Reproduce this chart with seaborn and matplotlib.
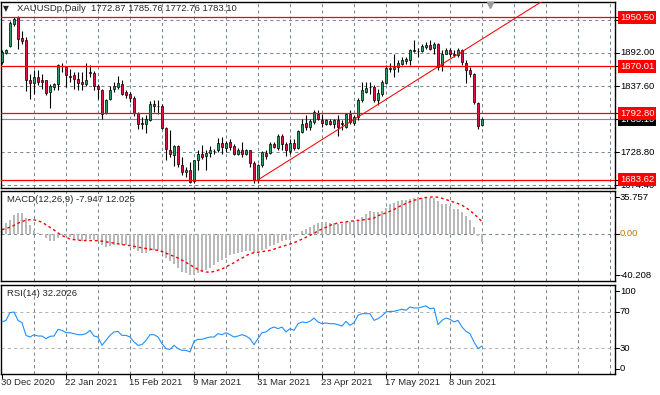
import numpy as np
import pandas as pd
import seaborn as sns
import matplotlib.pyplot as plt
import matplotlib.transforms as mtransforms

# daily candles (bar 0 = 30 Dec 2020)
opens = [1876.8, 1891.5, 1902.5, 1939.6, 1950.5, 1916.6, 1913.4, 1847.9, 1843.0, 1852.2,
         1846.8, 1846.8, 1827.7, 1835.9, 1840.2, 1871.0, 1868.6, 1853.5, 1855.0, 1849.5,
         1844.1, 1841.3, 1861.0, 1859.3, 1836.9, 1831.5, 1793.8, 1816.8, 1832.6, 1835.9,
         1841.3, 1827.7, 1824.9, 1818.4, 1793.8, 1776.0, 1774.7, 1781.3, 1808.6, 1804.5,
         1804.2, 1769.3, 1733.3, 1724.0, 1738.7, 1708.7, 1696.1, 1700.5, 1681.9, 1716.9,
         1726.7, 1722.9, 1727.8, 1731.0, 1732.2, 1744.7, 1736.5, 1745.8, 1738.7, 1726.7,
         1733.3, 1726.7, 1732.2, 1711.4, 1684.1, 1707.6, 1727.8, 1727.8, 1743.2, 1736.5,
         1755.1, 1743.2, 1731.1, 1744.7, 1736.5, 1762.2, 1776.9, 1770.4, 1778.6, 1792.2,
         1782.4, 1775.8, 1779.7, 1775.8, 1781.3, 1776.0, 1770.4, 1791.1, 1776.9, 1786.7,
         1814.1, 1827.7, 1836.0, 1835.9, 1814.1, 1824.9, 1842.4, 1865.3, 1865.9, 1868.6,
         1874.1, 1878.4, 1879.5, 1894.8, 1895.0, 1894.8, 1901.4, 1905.7, 1900.3, 1906.8,
         1871.3, 1890.4, 1897.0, 1889.6, 1888.8, 1897.0, 1875.7, 1864.2, 1857.7, 1809.7,
         1772.87]
highs = [1895.9, 1898.6, 1945.0, 1951.6, 1953.2, 1927.6, 1917.7, 1856.6, 1863.2, 1863.2,
         1857.7, 1847.9, 1840.2, 1842.4, 1874.1, 1875.2, 1869.7, 1865.9, 1860.4, 1860.4,
         1860.4, 1875.2, 1871.3, 1862.1, 1841.3, 1833.1, 1816.8, 1836.9, 1844.1, 1853.3,
         1846.8, 1830.4, 1827.7, 1820.6, 1794.9, 1786.7, 1789.5, 1812.9, 1815.1, 1814.1,
         1808.6, 1770.4, 1764.9, 1740.4, 1740.4, 1721.2, 1704.8, 1713.1, 1716.9, 1733.3,
         1740.4, 1733.3, 1738.7, 1734.9, 1752.9, 1754.0, 1747.4, 1751.3, 1743.2, 1736.5,
         1745.8, 1734.9, 1733.3, 1714.7, 1710.3, 1731.1, 1732.2, 1745.8, 1745.8, 1758.4,
         1758.4, 1745.8, 1751.3, 1751.3, 1764.9, 1784.0, 1789.5, 1784.0, 1798.7, 1797.7,
         1792.2, 1784.0, 1784.0, 1784.0, 1789.5, 1781.3, 1793.3, 1798.7, 1789.5, 1818.4,
         1844.1, 1844.1, 1844.1, 1838.6, 1833.1, 1846.8, 1871.3, 1875.2, 1890.4, 1879.5,
         1885.0, 1885.0, 1898.6, 1912.3, 1900.3, 1906.8, 1909.5, 1913.4, 1909.5, 1908.5,
         1897.0, 1900.3, 1900.3, 1895.9, 1899.7, 1898.6, 1879.5, 1868.6, 1858.8, 1811.3,
         1785.76]
lows = [1874.1, 1890.4, 1901.4, 1936.8, 1898.6, 1906.8, 1828.8, 1816.8, 1824.9, 1838.6,
        1833.1, 1823.3, 1802.0, 1830.4, 1830.4, 1860.4, 1835.9, 1844.1, 1833.1, 1830.4,
        1830.4, 1836.9, 1852.2, 1830.4, 1816.8, 1784.0, 1792.2, 1815.1, 1827.7, 1833.1,
        1822.2, 1818.4, 1811.3, 1787.8, 1767.6, 1767.6, 1760.5, 1780.2, 1794.9, 1792.2,
        1767.6, 1716.9, 1721.2, 1706.5, 1704.8, 1691.2, 1688.5, 1677.6, 1678.7, 1700.5,
        1718.5, 1700.5, 1721.2, 1725.6, 1729.4, 1726.7, 1729.4, 1732.2, 1724.0, 1724.0,
        1721.2, 1724.0, 1704.8, 1677.6, 1677.6, 1704.8, 1718.5, 1726.7, 1736.5, 1733.3,
        1732.2, 1722.3, 1726.7, 1733.3, 1734.9, 1760.5, 1766.0, 1766.0, 1775.8, 1781.3,
        1770.4, 1773.1, 1773.1, 1769.3, 1755.1, 1766.0, 1769.3, 1775.8, 1773.1, 1781.3,
        1811.3, 1826.0, 1824.9, 1811.3, 1805.8, 1820.6, 1841.3, 1860.4, 1852.2, 1860.4,
        1871.3, 1873.0, 1871.3, 1893.2, 1885.0, 1893.2, 1898.6, 1897.0, 1890.4, 1864.2,
        1862.1, 1889.4, 1885.0, 1885.0, 1885.0, 1871.3, 1842.4, 1852.2, 1808.6, 1766.5,
        1772.76]
closes = [1893.2, 1897.0, 1941.2, 1947.8, 1915.0, 1911.2, 1847.9, 1842.4, 1852.2, 1844.1,
          1844.1, 1826.6, 1836.9, 1840.2, 1871.3, 1870.5, 1855.0, 1853.0, 1848.4, 1843.0,
          1841.3, 1847.9, 1858.8, 1836.9, 1833.1, 1792.2, 1814.1, 1830.4, 1836.9, 1843.0,
          1824.9, 1822.2, 1818.4, 1793.8, 1775.8, 1775.5, 1784.0, 1808.6, 1804.8, 1804.0,
          1769.3, 1734.9, 1725.6, 1738.7, 1710.3, 1696.7, 1700.5, 1680.3, 1715.8, 1726.7,
          1721.2, 1727.8, 1732.2, 1731.5, 1744.7, 1737.6, 1744.7, 1737.6, 1726.7, 1733.3,
          1725.6, 1732.2, 1711.4, 1684.1, 1707.6, 1729.4, 1722.3, 1743.2, 1737.6, 1755.1,
          1743.2, 1733.3, 1744.7, 1736.5, 1763.3, 1775.8, 1770.4, 1780.2, 1794.9, 1784.0,
          1776.9, 1781.3, 1775.8, 1781.3, 1770.4, 1775.5, 1791.1, 1778.6, 1786.7, 1814.1,
          1830.4, 1834.8, 1835.5, 1814.1, 1826.0, 1844.1, 1867.0, 1867.5, 1868.6, 1875.7,
          1880.6, 1881.2, 1897.5, 1897.0, 1894.6, 1902.5, 1905.7, 1898.6, 1906.8, 1868.6,
          1890.4, 1897.0, 1890.4, 1889.2, 1897.0, 1876.8, 1864.2, 1857.7, 1811.3, 1772.0,
          1783.10]

macd_main = [5.9, 10.8, 14, 19, 20, 20, 15.7, 8.5, 4.2, 1,
             -0.7, -3.9, -7.2, -6.5, -3.9, -1.3, -1.6, -3.3, -4.6, -5.6,
             -6.5, -5.6, -4.6, -5.6, -7.2, -11.1, -13.1, -12.1, -11.1, -9.8,
             -10.5, -11.1, -12.1, -14.4, -17, -18.6, -18.6, -16.3, -15.4, -15.4,
             -18.6, -23.5, -26.8, -29.4, -33.3, -36.6, -38.2, -40.2, -39.5, -38.2,
             -36.6, -35, -33.3, -30.7, -27.5, -25.2, -23.5, -20.3, -19.6, -18.6,
             -17.6, -16.3, -17, -18.6, -17, -15.4, -14.4, -12.1, -10.5, -8.8,
             -6.5, -5.6, -5.6, -3.3, -0.7, 2.6, 5.2, 6.5, 8.5, 10.8,
             11.8, 11.8, 10.8, 10.8, 9.8, 9.8, 11.8, 11.8, 12.4, 14,
             16.3, 19.6, 22.2, 21.6, 21.6, 22.2, 25.5, 28.8, 30.4, 32,
             32.7, 32.7, 34.5, 35.2, 35.7, 35.5, 35.3, 34.8, 34.6, 32,
             29.4, 28.8, 27.1, 24.8, 23.9, 21.6, 17.3, 14, 6.5, -1.5,
             -7.947]
macd_signal = [4.2, 5.3, 6.5, 8.5, 10.5, 12.2, 13.3, 14, 13.8, 12.8,
               11.5, 9, 6.5, 4, 1, -1.5, -3, -4.9, -5.5, -6,
               -6.3, -6.4, -6.4, -6.5, -6.5, -7, -7.6, -8.2, -8.9, -9.6,
               -10.2, -10.8, -11.4, -12, -12.8, -13.5, -14.1, -14.7, -15.3, -16,
               -17, -18.6, -20.3, -21.8, -23.5, -25.5, -27.7, -30, -32.3, -34.5,
               -36, -37, -37.3, -36.5, -35.3, -34, -32, -30, -28, -25.5,
               -23.5, -21.2, -19.2, -18.3, -17.7, -17.2, -16.6, -16, -14.8, -13.4,
               -12.2, -11, -9.8, -8.4, -6.8, -5, -3.2, -1.3, 0.6, 3,
               4.8, 6.5, 8.5, 9.6, 10.8, 11.3, 11.8, 12.4, 12.8, 13.3,
               13.7, 14.2, 14.7, 15.6, 17.8, 19.3, 20.6, 22.2, 23.9, 26.2,
               28, 29.8, 31.4, 32.8, 34, 35, 35.6, 35.9, 36.3, 35.8,
               34.8, 33.6, 32.2, 31, 29.6, 28, 25.6, 22.9, 19.5, 16,
               12.025]
rsi_vals = [58.9, 60.7, 69.3, 70, 60.7, 58.1, 44, 42.2, 44.8, 43.3,
            43.3, 40.4, 43, 43.3, 50.7, 49.6, 47, 47, 45.9, 44.8,
            44.8, 45.9, 49.6, 43.3, 42.2, 33, 38.5, 44, 47.8, 48.5,
            44, 44, 42.2, 36.7, 33, 33.7, 38.5, 44.8, 44.8, 42.2,
            34.8, 29.3, 28.5, 33, 29.3, 27.4, 27.4, 25.6, 37.4, 39.6,
            39.6, 41.1, 42.2, 42.2, 45.9, 44.8, 47, 44.8, 42.2, 43.3,
            44.8, 43.3, 40.4, 33.7, 40.4, 47, 47.8, 51.5, 53.3, 51.5,
            53.3, 47.8, 51.5, 49.6, 57, 58.9, 58.1, 59.6, 63.3, 58.9,
            57, 57.8, 57, 57, 55.9, 54.4, 59.6, 55.2, 58.1, 66.3,
            68.1, 68.1, 68.1, 60.7, 62.6, 65.6, 70, 70.7, 70.7, 71.9,
            73, 71.9, 75.6, 74.4, 74.4, 75.6, 76.7, 73.7, 74.4, 55.9,
            60.7, 63.3, 61.9, 58.9, 60.7, 53.3, 48.5, 45.9, 36.7, 29.3,
            32.2]

date_labels = ["30 Dec 2020", "22 Jan 2021", "15 Feb 2021", "9 Mar 2021",
               "31 Mar 2021", "23 Apr 2021", "17 May 2021", "8 Jun 2021"]
price_grid = [1946.40, 1892.00, 1837.60, 1783.20, 1728.80, 1674.40]
red_levels = [1950.50, 1870.01, 1792.80, 1683.62]
last_price = 1783.10
trend_bars = [64, 109.5]
trend_prices = [1683.6, 1871.3]

GREEN = '#2f9e5f'
RED = '#e0143c'
GRID = dict(color='#778899', lw=0.75, ls=(0, (3, 3)))
W, H = 660, 395

sns.set_theme(style="white")
plt.rcParams['font.family'] = ['Liberation Sans', 'DejaVu Sans']
plt.rcParams['font.size'] = 6.8

fig = plt.figure(figsize=(W / 100, H / 100), dpi=100)


def px_axes(top, bottom, left=1, right=615):
    return fig.add_axes([left / W, 1 - bottom / H, (right - left) / W, (bottom - top) / H])


def right_label(ax, y, text, fc=None, color='black', z=11):
    tr = mtransforms.blended_transform_factory(ax.transAxes, ax.transData)
    kw = {}
    if fc:
        kw['bbox'] = dict(boxstyle='square,pad=0.22', fc=fc, ec='none')
    ax.text(1.008, y, text, transform=tr, ha='left', va='center', color=color,
            clip_on=False, zorder=z, **kw)
    ax.plot([1.0, 1.006], [y, y], transform=tr, color='black', lw=0.75, clip_on=False)


ax_p = px_axes(1.5, 188)
ax_m = px_axes(190.7, 281.3)
ax_r = px_axes(284.7, 374.3)

df = pd.DataFrame({'open': opens, 'high': highs, 'low': lows, 'close': closes,
                   'macd': macd_main, 'signal': macd_signal, 'rsi': rsi_vals})
df['bar'] = np.arange(len(df))

# price window
for lvl in price_grid:
    ax_p.axhline(lvl, zorder=0, **GRID)
up = df.close >= df.open
body_lo = df[['open', 'close']].min(axis=1)
body_h = (df.close - df.open).abs().clip(lower=0.6)
ax_p.vlines(df.bar, df.low, df.high, color='black', lw=0.8, zorder=3)
ax_p.bar(df.bar, body_h, bottom=body_lo, width=0.72, color=np.where(up, GREEN, RED),
         edgecolor='black', linewidth=0.5, zorder=4)
for lvl in red_levels:
    ax_p.axhline(lvl, color='red', lw=0.9, zorder=5)
ax_p.axhline(last_price, color='#8a8a8a', lw=0.8, zorder=2)
slope = (trend_prices[1] - trend_prices[0]) / (trend_bars[1] - trend_bars[0])
ax_p.plot([trend_bars[0], 153.25], [trend_prices[0], trend_prices[0] + slope * (153.25 - trend_bars[0])],
          color='red', lw=0.75, zorder=5)
ax_p.set_ylim(1670.2, 1976.3)
for lvl in price_grid:
    right_label(ax_p, lvl, f"{lvl:.2f}")
right_label(ax_p, last_price, f"{last_price:.2f}", fc='black', color='white', z=12)
for lvl in red_levels:
    right_label(ax_p, lvl, f"{lvl:.2f}", fc='#ff0000', color='white', z=13)
ax_p.text(0.004, 0.965, "\u25bc", transform=ax_p.transAxes, fontsize=5.5, va='center',
          family=['DejaVu Sans'])
ax_p.text(0.026, 0.965, "XAUUSDp,Daily  1772.87 1785.76 1772.76 1783.10",
          transform=ax_p.transAxes, va='center', zorder=8)
trm = mtransforms.blended_transform_factory(ax_p.transData, ax_p.transAxes)
ax_p.plot([122], [0.982], marker='v', color='#9a9a9a', ms=5, transform=trm, clip_on=False, zorder=9)

# MACD window
ax_m.axhline(0, zorder=1, **GRID)
ax_m.bar(df.bar, df.macd, width=0.3, color='#b9b9b9', linewidth=0, zorder=2)
sns.lineplot(data=df, x='bar', y='signal', ax=ax_m, color='red', lw=1.0,
             linestyle=(0, (2, 2)), zorder=3)
ax_m.set_ylim(-46.1, 42.2)
ax_m.text(0.0093, 0.90, "MACD(12,26,9) -7.947 12.025", transform=ax_m.transAxes, va='center')
right_label(ax_m, 35.757, "35.757")
right_label(ax_m, 0, "0.00", color='#c87000')
right_label(ax_m, -40.208, "-40.208")

# RSI window
for lvl in (70, 30):
    ax_r.axhline(lvl, color='#b4b4b4', lw=0.75, ls=(0, (3, 3)), zorder=1)
sns.lineplot(data=df, x='bar', y='rsi', ax=ax_r, color='#1e90ff', lw=0.8, zorder=3)
ax_r.set_ylim(0.8, 100.3)
ax_r.text(0.0093, 0.90, "RSI(14) 32.2026", transform=ax_r.transAxes, va='center')
for lvl, txt in [(92.8, "100"), (70, "70"), (30, "30"), (7, "0")]:
    right_label(ax_r, lvl, txt)

trb = mtransforms.blended_transform_factory(ax_r.transData, ax_r.transAxes)
for i, lab in zip(range(0, len(df), 16), date_labels):
    ax_r.text(i - 0.2, -0.097, lab, transform=trb, ha='left', va='center', clip_on=False)
    ax_r.plot([i, i], [0, -0.04], transform=trb, color='black', lw=0.75, clip_on=False)

for ax in (ax_p, ax_m, ax_r):
    ax.set_xlim(-0.25, 153.25)
    for xg in range(8, 154, 8):
        ax.axvline(xg, zorder=0, **GRID)
    ax.set_xticks([])
    ax.set_yticks([])
    ax.set_xlabel('')
    ax.set_ylabel('')
    for s in ax.spines.values():
        s.set_color('black')
        s.set_linewidth(1)

fig.savefig('out.png', dpi=100)
